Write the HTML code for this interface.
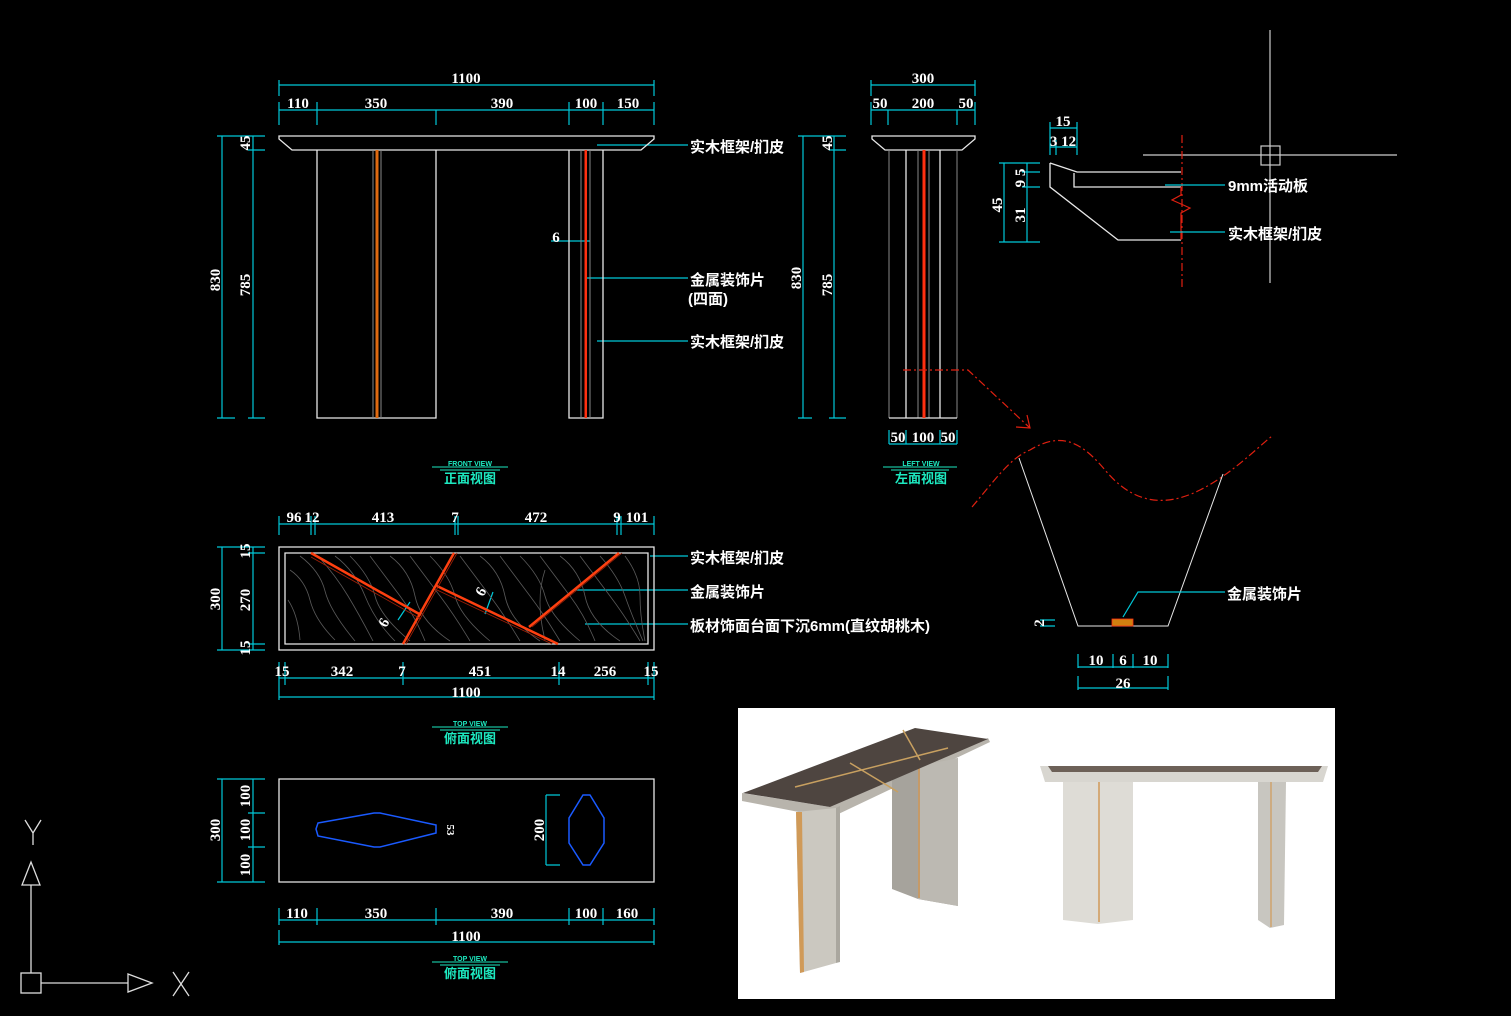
<!DOCTYPE html>
<html><head><meta charset="utf-8"><style>
html,body{margin:0;padding:0;background:#000;}
svg{display:block}
.d{stroke:#00c8d8;stroke-width:1.2;fill:none}
.w{stroke:#e8e8e8;stroke-width:1.3;fill:none}
.g{stroke:#888;stroke-width:1;fill:none}
.t{font-family:"Liberation Serif",serif;font-size:15px;fill:#fff;text-anchor:middle;font-weight:bold}
.c{font-family:"Liberation Sans","Noto Sans CJK SC",sans-serif;font-size:15px;fill:#fff;font-weight:bold}
.ti{font-family:"Liberation Sans","Noto Sans CJK SC",sans-serif;font-size:13px;fill:#1de9c0;font-weight:bold;text-anchor:middle}
.ts{font-family:"Liberation Sans",sans-serif;font-size:7px;fill:#1de9c0;font-weight:bold;text-anchor:middle}
.r{stroke:#e02010;stroke-width:1.2;fill:none;stroke-dasharray:8 3 2 3}
</style></head><body>
<svg width="1511" height="1016" viewBox="0 0 1511 1016" xmlns="http://www.w3.org/2000/svg">
<rect width="1511" height="1016" fill="#000"/>

<!-- FRONT VIEW -->
<g class="d">
<path d="M279,85H654M279,80V96M654,80V96"/>
<path d="M279,110H654M279,102V125M317,102V125M436,110V125M569,102V125M603,102V125M654,102V125"/>
<path d="M222,136V418M253,136V418M217,136H265M248,150H265M217,418H235M248,418H265"/>
<path d="M803,136V418M834,136V418M798,136H846M829,150H846M798,418H812M829,418H846"/>
<path d="M597,145H688M585,278H688M597,341H688M551,241H590"/>
</g>
<text class="t" x="466" y="83">1100</text>
<text class="t" x="298" y="108">110</text><text class="t" x="376" y="108">350</text><text class="t" x="502" y="108">390</text><text class="t" x="586" y="108">100</text><text class="t" x="628" y="108">150</text>
<text class="t" transform="translate(220,280) rotate(-90)">830</text>
<text class="t" transform="translate(250,285) rotate(-90)">785</text>
<text class="t" transform="translate(250,143) rotate(-90)">45</text>
<text class="t" transform="translate(801,278) rotate(-90)">830</text>
<text class="t" transform="translate(832,285) rotate(-90)">785</text>
<text class="t" transform="translate(832,143) rotate(-90)">45</text>
<text class="t" x="556" y="242">6</text>
<path class="w" d="M279,136H654L654,139L641,150H292L279,139Z"/>
<path class="w" d="M317,150V418H436V150M569,150V418H603V150"/>
<path class="g" d="M373,150V418M381,150V418M581,150V418M590,150V418"/>
<rect x="375.5" y="150" width="3" height="268" fill="#e06a10"/>
<rect x="584.5" y="150" width="2.5" height="268" fill="#ff3010"/>
<text class="c" x="690" y="152">实木框架/扪皮</text>
<text class="c" x="690" y="285">金属装饰片</text>
<text class="c" x="688" y="304">(四面)</text>
<text class="c" x="690" y="347">实木框架/扪皮</text>
<path d="M432,467H508M440,470H500" stroke="#1de9c0" stroke-width="1"/>
<text class="ts" x="470" y="466">FRONT VIEW</text>
<text class="ti" x="470" y="483">正面视图</text>

<!-- LEFT VIEW -->
<g class="d">
<path d="M871,85H975M871,80V96M975,80V96"/>
<path d="M871,110H975M871,102V125M888,110V125M957,110V125M975,102V125"/>
<path d="M889,444H957M889,430V444M906,430V444M940,430V444M957,430V444"/>
</g>
<text class="t" x="923" y="83">300</text>
<text class="t" x="880" y="108">50</text><text class="t" x="923" y="108">200</text><text class="t" x="966" y="108">50</text>
<text class="t" x="898" y="442">50</text><text class="t" x="923" y="442">100</text><text class="t" x="948" y="442">50</text>
<path class="w" d="M872,136H975V139L962,150H885L872,139Z"/>
<path class="g" d="M889,150V418M957,150V418M918,150V418M929,150V418"/>
<path class="w" d="M906,150V418M940,150V418M889,418H957"/>
<rect x="922.5" y="150" width="3" height="268" fill="#ff3010"/>
<path d="M883,467H957M891,470H949" stroke="#1de9c0" stroke-width="1"/>
<text class="ts" x="921" y="466">LEFT VIEW</text>
<text class="ti" x="921" y="483">左面视图</text>
<path class="r" d="M903,370H968L1030,428"/>
<path d="M1016,427L1030,428L1027,415" stroke="#e02010" stroke-width="1.2" fill="none"/>

<!-- SECTION DETAIL -->
<path d="M1270,30V283M1143,155H1397" stroke="#ccc" stroke-width="1.2"/>
<rect x="1261" y="146" width="19" height="19" fill="none" stroke="#ccc" stroke-width="1.2"/>
<path class="r" d="M1182,135V287"/>
<path class="w" d="M1050,163L1077,172H1181M1074,173V187H1181M1050,163V187L1118,240H1181"/>
<path d="M1181,187V195L1172,200L1190,208L1181,213V240" stroke="#e02010" stroke-width="1.2" fill="none"/>
<g class="d">
<path d="M1050,128H1077M1050,122V155M1077,122V155M1050,147H1077M1056,140V155"/>
<path d="M1004,163V242M999,163H1040M1027,163V242M1022,172H1040M1022,187H1040M999,242H1040"/>
<path d="M1165,185H1225M1170,232H1225"/>
</g>
<text class="t" x="1063" y="126">15</text>
<text class="t" x="1063" y="146">3 12</text>
<text class="t" transform="translate(1002,205) rotate(-90)">45</text>
<text class="t" transform="translate(1025,215) rotate(-90)">31</text>
<text class="t" transform="translate(1025,178) rotate(-90)">9 5</text>
<text class="c" x="1228" y="191">9mm活动板</text>
<text class="c" x="1228" y="239">实木框架/扪皮</text>

<!-- ZOOM CURVE -->
<path class="r" d="M972,507C995,480 1010,458 1030,450C1060,432 1080,440 1105,470C1130,500 1160,510 1200,490C1230,475 1255,450 1272,436"/>
<path class="w" d="M1019,458L1078,626H1168L1223,474" style="stroke-width:1"/>
<rect x="1112" y="619" width="21" height="7" fill="#d08010" stroke="#ff3010" stroke-width="0.8"/>
<path class="d" d="M1123,617L1138,592H1225"/>
<text class="c" x="1227" y="599">金属装饰片</text>
<g class="d">
<path d="M1040,620H1055M1040,626H1055"/>
<path d="M1078,667H1168M1078,654V668M1113,654V668M1133,654V668M1168,654V668M1078,688H1168M1078,676V690M1168,676V690"/>
</g>
<text class="t" transform="translate(1044,623) rotate(-90)">2</text>
<text class="t" x="1096" y="665">10</text><text class="t" x="1123" y="665">6</text><text class="t" x="1150" y="665">10</text>
<text class="t" x="1123" y="688">26</text>

<!-- TOP VIEW -->
<g class="d">
<path d="M279,524H654M279,516V535M311,516V535M315,516V535M455,516V535M458,516V535M617,516V535M621,516V535M654,516V535"/>
<path d="M279,678H654M279,662V685M285,662V685M403,662V685M559,662V685M648,662V685M654,662V685"/>
<path d="M279,697H654M279,685V700M654,685V700"/>
<path d="M222,547V650M217,547H265M253,547V650M248,553H265M248,644H265M217,650H265"/>
<path d="M650,556H688M575,590H688M585,624H688"/>
<path d="M398,620L410,602M485,614L493,592"/>
</g>
<text class="t" x="294" y="522">96</text><text class="t" x="312" y="522">12</text><text class="t" x="383" y="522">413</text><text class="t" x="455" y="522">7</text><text class="t" x="536" y="522">472</text><text class="t" x="617" y="522">9</text><text class="t" x="637" y="522">101</text>
<text class="t" x="282" y="676">15</text><text class="t" x="342" y="676">342</text><text class="t" x="402" y="676">7</text><text class="t" x="480" y="676">451</text><text class="t" x="558" y="676">14</text><text class="t" x="605" y="676">256</text><text class="t" x="651" y="676">15</text>
<text class="t" x="466" y="697">1100</text>
<text class="t" transform="translate(220,599) rotate(-90)">300</text>
<text class="t" transform="translate(250,600) rotate(-90)">270</text>
<text class="t" transform="translate(250,551) rotate(-90)">15</text>
<text class="t" transform="translate(250,648) rotate(-90)">15</text>
<g stroke="#5a5a5a" stroke-width="0.8" fill="none">
<path d="M290,570q15,10 20,30t25,40"/><path d="M300,556q20,15 25,35t30,50"/><path d="M318,556q18,20 30,40t25,45"/><path d="M335,556q20,15 30,40t30,45"/>
<path d="M350,556q20,20 25,40t35,45"/><path d="M370,556q15,20 30,40t25,45"/><path d="M390,556q20,15 25,40t35,45"/><path d="M410,556q15,20 30,40t30,45"/>
<path d="M430,556q20,20 25,40t35,45"/><path d="M460,556q15,20 30,40t30,45"/><path d="M480,556q20,15 25,40t35,45"/><path d="M500,556q15,20 30,40t30,45"/>
<path d="M520,556q20,20 25,40t35,45"/><path d="M540,556q15,20 30,40t25,45"/><path d="M560,556q20,15 25,40t35,45"/><path d="M580,556q15,20 30,40t30,45"/>
<path d="M600,556q18,20 25,40t18,45"/><path d="M625,556q15,20 15,40t5,45"/><path d="M288,600q10,15 12,40"/><path d="M545,570q-10,30 0,70"/>
</g>
<path class="w" d="M279,547H654V650H279Z"/>
<path class="w" d="M285,553H648V644H285Z"/>
<g stroke="#ff4010" stroke-width="2.5" fill="none">
<path d="M311,553L421,615"/><path d="M454,553L403,644"/><path d="M437,586L558,644"/><path d="M619,553L529,627"/>
</g>
<g stroke="#a02008" stroke-width="0.8" fill="none">
<path d="M311,557L421,619"/><path d="M457,553L406,644"/><path d="M437,590L552,644"/><path d="M622,553L532,627"/>
</g>
<text class="t" transform="translate(388,625) rotate(-60)">6</text>
<text class="t" transform="translate(485,594) rotate(-60)">6</text>
<text class="c" x="690" y="563">实木框架/扪皮</text>
<text class="c" x="690" y="597">金属装饰片</text>
<text class="c" x="690" y="631">板材饰面台面下沉6mm(直纹胡桃木)</text>
<path d="M432,727H508M440,730H500" stroke="#1de9c0" stroke-width="1"/>
<text class="ts" x="470" y="726">TOP VIEW</text>
<text class="ti" x="470" y="743">俯面视图</text>

<!-- PLAN VIEW -->
<path class="w" d="M279,779H654V882H279Z"/>
<path d="M318,823L374,813H380L436,825V833L380,847H374L318,836L316,829Z" stroke="#1a5aff" stroke-width="1.5" fill="none"/>
<path d="M583,795H590L604,818V843L590,865H583L569,843V818Z" stroke="#1a5aff" stroke-width="1.5" fill="none"/>
<g class="d">
<path d="M222,779V882M217,779H265M253,779V882M248,813H265M248,847H265M217,882H265"/>
<path d="M546,795V865M546,795H560M546,865H560"/>
<path d="M279,920H654M279,908V925M317,908V925M436,908V925M569,908V925M603,908V925M654,908V925"/>
<path d="M279,942H654M279,930V945M654,930V945"/>
</g>
<text class="t" transform="translate(220,830) rotate(-90)">300</text>
<text class="t" transform="translate(250,796) rotate(-90)">100</text>
<text class="t" transform="translate(250,830) rotate(-90)">100</text>
<text class="t" transform="translate(250,865) rotate(-90)">100</text>
<text class="t" transform="translate(544,830) rotate(-90)">200</text>
<text class="t" transform="translate(447,830) rotate(90)" style="font-size:11px">53</text>
<text class="t" x="297" y="918">110</text><text class="t" x="376" y="918">350</text><text class="t" x="502" y="918">390</text><text class="t" x="586" y="918">100</text><text class="t" x="627" y="918">160</text>
<text class="t" x="466" y="941">1100</text>
<path d="M432,962H508M440,965H500" stroke="#1de9c0" stroke-width="1"/>
<text class="ts" x="470" y="961">TOP VIEW</text>
<text class="ti" x="470" y="978">俯面视图</text>

<!-- UCS -->
<g stroke="#ddd" stroke-width="1.3" fill="none">
<path d="M31,885V973"/><path d="M22,885L31,862L40,885Z"/>
<rect x="21" y="973" width="20" height="20"/>
<path d="M41,983H128"/><path d="M128,974L152,983L128,992Z"/>
<path d="M25,820L33,833L41,820M33,833V845"/>
<path d="M173,972L189,996M189,972L173,996"/>
</g>

<!-- PHOTO -->
<rect x="738" y="708" width="597" height="291" fill="#fff"/>
<polygon points="742,793 742,801 830,818 990,742 988,738 830,807" fill="#b8b4ac"/>
<polygon points="892,772 958,758 958,906 918,899 892,889" fill="#a6a39c"/>
<polygon points="918,766 958,758 958,906 918,899" fill="#bcb9b2"/>
<line x1="919" y1="766" x2="919" y2="898" stroke="#c89050" stroke-width="1.5"/>
<polygon points="743,793 915,728 988,739 830,807" fill="#4e4540"/>
<path d="M795,787L948,748M850,763L898,792M903,730L920,760" stroke="#c8a060" stroke-width="1.5"/>
<polygon points="796,812 836,808 836,963 800,973" fill="#cbc8c0"/>
<polygon points="796,812 802,812 804,972 800,973" fill="#d09a58"/>
<polygon points="836,808 840,806 840,962 836,963" fill="#aaa79f"/>
<polygon points="1040,766 1328,766 1323,782 1045,782" fill="#d8d6d0"/>
<polygon points="1048,766 1322,766 1318,772 1052,772" fill="#6d6158"/>
<polygon points="1063,782 1133,782 1133,920 1098,924 1063,920" fill="#dedcd6"/>
<line x1="1099" y1="782" x2="1099" y2="922" stroke="#d09a58" stroke-width="1.5"/>
<polygon points="1258,782 1286,782 1284,925 1270,928 1258,920" fill="#c8c6c0"/>
<line x1="1271" y1="782" x2="1271" y2="927" stroke="#d09a58" stroke-width="1.2"/>
</svg>
</body></html>
